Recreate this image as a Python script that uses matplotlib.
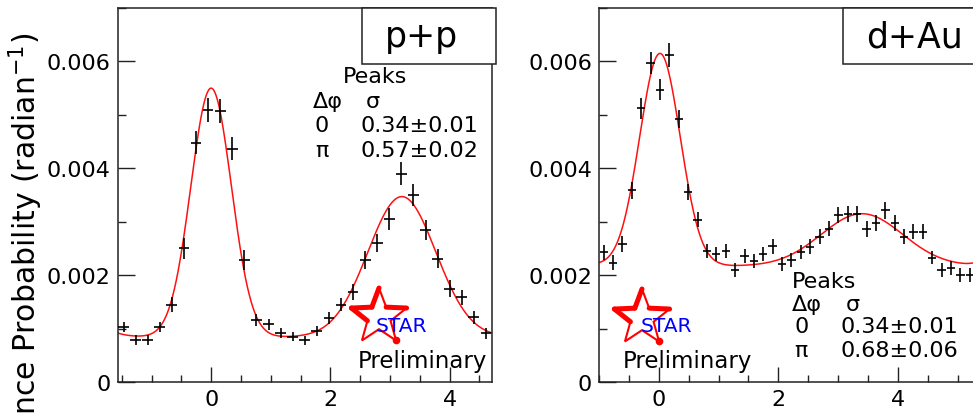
import numpy as np
import matplotlib
matplotlib.use("Agg")
import matplotlib.pyplot as plt
from matplotlib.ticker import MultipleLocator, FixedLocator, FuncFormatter
from matplotlib.patches import Rectangle, Polygon
from matplotlib.lines import Line2D

# ---------------- p+p : 31 bins over [-pi/2, 3pi/2] ----------------
pp_dphi = [-1.469, -1.267, -1.064, -0.861, -0.659, -0.456, -0.253, -0.051,
           0.152, 0.355, 0.557, 0.760, 0.963, 1.165, 1.368, 1.571, 1.774,
           1.976, 2.179, 2.382, 2.584, 2.787, 2.990, 3.192, 3.395, 3.598,
           3.800, 4.003, 4.206, 4.408, 4.611]
pp_prob = [0.00103, 0.00079, 0.00079, 0.00103, 0.00145, 0.00250, 0.00448,
           0.00509, 0.00507, 0.00437, 0.00228, 0.00116, 0.00108, 0.00092,
           0.00085, 0.00078, 0.00096, 0.00120, 0.00145, 0.00169, 0.00228,
           0.00260, 0.00305, 0.00390, 0.00350, 0.00284, 0.00231, 0.00175,
           0.00159, 0.00121, 0.00091]
pp_err = [0.00009, 0.00009, 0.00009, 0.00009, 0.00014, 0.00020, 0.00022,
          0.00023, 0.00023, 0.00022, 0.00019, 0.00011, 0.00010, 0.00009,
          0.00009, 0.00009, 0.00009, 0.00011, 0.00012, 0.00015, 0.00017,
          0.00017, 0.00020, 0.00021, 0.00021, 0.00019, 0.00017, 0.00015,
          0.00014, 0.00012, 0.00010]
pp_xerr = 0.09

# two-gaussian + pedestal fit
pp_base = 0.00084
pp_amp = [0.00466, 0.00263]
pp_mean = [0.0, 3.2]
pp_sigma = [0.34, 0.57]
pp_sigma_err = [0.01, 0.02]

# ---------------- d+Au : 40 bins over [-1, 2pi-1] ----------------
dau_dphi = [-0.921, -0.764, -0.607, -0.450, -0.293, -0.136, 0.021, 0.178,
            0.335, 0.492, 0.649, 0.806, 0.963, 1.120, 1.278, 1.435, 1.592,
            1.749, 1.906, 2.063, 2.220, 2.377, 2.534, 2.691, 2.848, 3.005,
            3.163, 3.320, 3.477, 3.634, 3.791, 3.948, 4.105, 4.262, 4.419,
            4.576, 4.733, 4.890, 5.048, 5.205]
dau_prob = [0.00243, 0.00223, 0.00259, 0.00359, 0.00512, 0.00597, 0.00547,
            0.00612, 0.00493, 0.00356, 0.00304, 0.00245, 0.00240, 0.00245,
            0.00209, 0.00236, 0.00227, 0.00240, 0.00254, 0.00221, 0.00229,
            0.00244, 0.00253, 0.00272, 0.00287, 0.00312, 0.00314, 0.00315,
            0.00287, 0.00297, 0.00321, 0.00297, 0.00272, 0.00281, 0.00281,
            0.00233, 0.00210, 0.00214, 0.00201, 0.00201]
dau_err = [0.00014, 0.00014, 0.00015, 0.00016, 0.00019, 0.00020, 0.00020,
           0.00022, 0.00017, 0.00015, 0.00014, 0.00013, 0.00013, 0.00013,
           0.00013, 0.00013, 0.00013, 0.00013, 0.00014, 0.00013, 0.00013,
           0.00013, 0.00014, 0.00014, 0.00014, 0.00015, 0.00015, 0.00015,
           0.00015, 0.00015, 0.00016, 0.00015, 0.00014, 0.00014, 0.00014,
           0.00013, 0.00013, 0.00013, 0.00013, 0.00013]
dau_xerr = 0.07

dau_base = 0.00217
dau_amp = [0.00398, 0.00098]
dau_mean = [0.02, 3.4]
dau_sigma = [0.34, 0.68]
dau_sigma_err = [0.01, 0.06]

W, H = 973, 414
fig = plt.figure(figsize=(W / 100, H / 100), dpi=100)
plt.rcParams['font.family'] = ['DejaVu Sans']

FRAME = '#222222'


def fit_curve(x, base, amp, mean, sigma):
    y = np.full_like(x, base)
    for a, m, s in zip(amp, mean, sigma):
        for shift in (-2 * np.pi, 0.0, 2 * np.pi):
            y += a * np.exp(-0.5 * ((x - m - shift) / s) ** 2)
    return y


def px(x, y):
    """figure-fraction coordinates from pixel position (origin top-left)"""
    return x / W, 1 - y / H


def style_axes(ax, xlim):
    ax.set_xlim(*xlim)
    ax.set_ylim(0, 0.007)
    ax.xaxis.set_major_locator(FixedLocator([0, 2, 4]))
    ax.xaxis.set_minor_locator(MultipleLocator(0.5))
    ax.yaxis.set_major_locator(MultipleLocator(0.002))
    ax.yaxis.set_minor_locator(MultipleLocator(0.001))
    ax.yaxis.set_major_formatter(FuncFormatter(lambda v, p: '0' if abs(v) < 1e-9 else f'{v:.3f}'))
    ax.xaxis.set_major_formatter(FuncFormatter(lambda v, p: f'{v:.0f}'))
    ax.tick_params(axis='both', which='both', direction='in', colors=FRAME,
                   labelcolor='black', labelsize=16, width=1.0,
                   top=False, right=False)
    ax.tick_params(axis='x', which='major', length=11, pad=5)
    ax.tick_params(axis='x', which='minor', length=5)
    ax.tick_params(axis='y', which='major', length=12, pad=5)
    ax.tick_params(axis='y', which='minor', length=6)
    for s in ax.spines.values():
        s.set_color(FRAME)
        s.set_linewidth(1.1)


def draw_panel(ax, dphi, prob, err, xerr, base, amp, mean, sigma, xlim):
    style_axes(ax, xlim)
    ax.errorbar(dphi, prob, xerr=xerr, yerr=err, fmt='none', ecolor='black',
                elinewidth=1.2, capsize=0, zorder=3)
    xs = np.linspace(xlim[0], xlim[1], 600)
    ax.plot(xs, fit_curve(xs, base, amp, mean, sigma), color='#ff1010', lw=1.1, zorder=2)


def system_box(ax, label, x0_frac, text_x, text_base):
    ax.add_patch(Rectangle((x0_frac, 1 - 56 / 374), 1 - x0_frac + 0.01, 56 / 374,
                           transform=ax.transAxes, facecolor='white',
                           edgecolor=FRAME, lw=1.1, clip_on=False, zorder=5))
    fig.text(*px(text_x, text_base), label, fontsize=25, ha='center',
             va='baseline', zorder=6)


def peak_table(x_peaks, x_col1, x_col2, baselines, sig, sig_err):
    fs = 16
    fig.text(*px(x_peaks, baselines[0]), 'Peaks', fontsize=fs, va='baseline')
    fig.text(*px(x_col1, baselines[1]), 'Δφ', fontsize=fs, va='baseline')
    fig.text(*px(x_col2 + 6, baselines[1]), 'σ', fontsize=fs, va='baseline')
    fig.text(*px(x_col1 + 2, baselines[2]), '0', fontsize=fs, va='baseline')
    fig.text(*px(x_col2, baselines[2]), f'{sig[0]:.2f}±{sig_err[0]:.2f}',
             fontsize=fs, va='baseline')
    fig.text(*px(x_col1 + 2, baselines[3]), 'π', fontsize=fs, va='baseline')
    fig.text(*px(x_col2, baselines[3]), f'{sig[1]:.2f}±{sig_err[1]:.2f}',
             fontsize=fs, va='baseline')


def star_logo(cx, cy, R=29.0):
    cy_up = H - cy
    ang_out = np.deg2rad([90, 162, 234, 306, 18])
    ang_in = np.deg2rad([126, 198, 270, 342, 54])
    r_in = 0.42 * R
    verts = []
    for ao, ai in zip(ang_out, ang_in):
        verts.append((cx + R * np.cos(ao), cy_up + R * np.sin(ao)))
        verts.append((cx + r_in * np.cos(ai), cy_up + r_in * np.sin(ai)))
    verts = np.array(verts)
    verts_fig = verts / [W, H]
    fig.add_artist(Polygon(verts_fig, closed=True, fill=False, edgecolor='#ff0000',
                           lw=1.5, transform=fig.transFigure, zorder=7))
    # heavier strokes along the upper-left edges and the right arm
    thick = [(0, 1), (1, 2), (9, 8), (2, 3)]
    for a, b in thick:
        seg = verts_fig[[a, b]]
        fig.add_artist(Line2D(seg[:, 0], seg[:, 1], color='#ff0000', lw=3.6,
                              solid_capstyle='round', transform=fig.transFigure, zorder=7))
    tip = verts_fig[6]
    fig.add_artist(Line2D([tip[0]], [tip[1]], marker='o', ms=4.5, color='#ff0000',
                          transform=fig.transFigure, zorder=7))


# ---- left panel: p+p ----
ax1 = fig.add_axes([117.5 / W, 31 / H, 374.5 / W, 374 / H])
draw_panel(ax1, pp_dphi, pp_prob, pp_err, pp_xerr, pp_base, pp_amp, pp_mean,
           pp_sigma, (-np.pi / 2, 3 * np.pi / 2))
system_box(ax1, 'p+p', (362 - 117.5) / 374.5, 421, 47)
peak_table(343, 313, 360, [83, 108, 132, 157], pp_sigma, pp_sigma_err)
star_logo(379, 318)
fig.text(*px(376, 332), 'STAR', fontsize=14.5, color='#0000ff', va='baseline', zorder=8)
fig.text(*px(358, 368), 'Preliminary', fontsize=16.5, va='baseline')

# ---- right panel: d+Au ----
ax2 = fig.add_axes([599 / W, 31 / H, 375.5 / W, 374 / H])
draw_panel(ax2, dau_dphi, dau_prob, dau_err, dau_xerr, dau_base, dau_amp, dau_mean,
           dau_sigma, (-1, 2 * np.pi - 1))
system_box(ax2, 'd+Au', (843 - 599) / 375.5, 914, 47)
peak_table(792, 792, 840, [288, 311, 333, 357], dau_sigma, dau_sigma_err)
star_logo(642, 319)
fig.text(*px(641, 332), 'STAR', fontsize=14.5, color='#0000ff', va='baseline', zorder=8)
fig.text(*px(623, 368), 'Preliminary', fontsize=16.5, va='baseline')

# shared y-axis title (runs past the lower edge of the canvas)
fig.text(26 / W, 1 - 33 / H, 'Coincidence Probability (radian$^{-1}$)', fontsize=21.5,
         rotation=90, ha='center', va='top')

fig.savefig('out.png', dpi=100)
